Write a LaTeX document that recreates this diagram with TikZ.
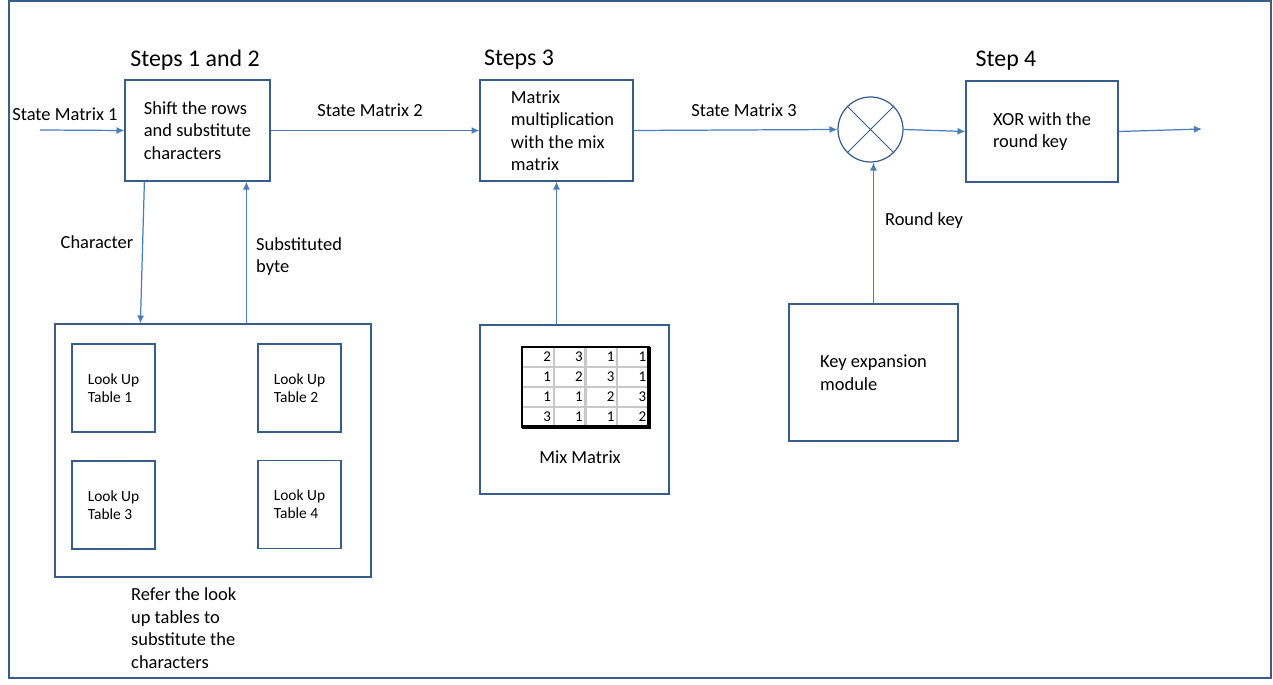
\documentclass[tikz,border=0pt]{standalone}
\usepackage{fontspec}
\setmainfont{Carlito}
\usetikzlibrary{arrows.meta}
\definecolor{boxcol}{HTML}{385D8A}
\definecolor{arrcol}{HTML}{4A7EBB}
\definecolor{gridcol}{HTML}{C8C8C8}
\begin{document}
\begin{tikzpicture}[x=0.02cm, y=-0.02cm, >={Latex[length=4.5pt,width=4pt]},
  blk/.style={draw=boxcol, line width=.7pt, inner sep=0pt, align=left, font=\fontsize{10.5}{12.8}\selectfont},
  lut/.style={blk, minimum width=1.66cm, minimum height=1.76cm, font=\fontsize{8.8}{10.2}\selectfont},
  conn/.style={->, draw=arrcol, line width=.7pt},
  lbl/.style={font=\fontsize{10.5}{12.8}\selectfont, align=left},
  ttl/.style={font=\fontsize{13.6}{16}\selectfont}]
\useasboundingbox (0,0) rectangle (1273,685);
\draw[boxcol, line width=.8pt] (9,1) rectangle (1271,678);
\node[blk, minimum width=2.9cm, minimum height=2.02cm] (shift) at (197.5,130.5) {Shift the rows\\and substitute\\characters};
\node[blk, minimum width=3.06cm, minimum height=2.02cm] (mult) at (556.5,130.5) {\hspace*{.24cm}Matrix\\\hspace*{.24cm}multiplication\\\hspace*{.24cm}with the mix\\\hspace*{.24cm}matrix};
\node[draw=boxcol, line width=.7pt, circle, minimum size=1.3cm, inner sep=0pt] (xorc) at (870.5,129.5) {};
\draw[boxcol, line width=.5pt] (xorc.45)--(xorc.225) (xorc.135)--(xorc.-45);
\node[blk, minimum width=3.04cm, minimum height=2.02cm] (xorb) at (1042,131.5) {XOR with the\\round key};
\node[blk, minimum width=3.38cm, minimum height=2.74cm] (key) at (873.5,372.5) {Key expansion\\module};
\node[blk, minimum width=3.78cm, minimum height=3.38cm] (mix) at (574.5,409.5) {};
\node[blk, minimum width=6.32cm, minimum height=5.06cm] (lutbox) at (213,450.5) {};
\node[lut] (lt1) at (113.5,388) {Look Up\\Table 1};
\node[lut] (lt2) at (299.5,388) {Look Up\\Table 2};
\node[lut] (lt3) at (113.5,505) {Look Up\\Table 3};
\node[lut] (lt4) at (299.5,504.5) {Look Up\\Table 4};
\node[ttl] at (195,60) {Steps 1 and 2};
\node[ttl] at (519,60) {Steps 3};
\node[ttl] at (1006,61) {Step 4};
\coordinate (in) at (40,130);
\coordinate (out) at (1202,129);
\draw[conn] (in) -- (shift.west);
\draw[conn] (shift.east) -- (mult.west);
\draw[conn] (mult.east) -- (xorc.west);
\draw[conn] (xorc.east) -- (xorb.west);
\draw[conn] (xorb.east) -- (out);
\draw[conn] (key.north) -- (key.north |- xorc.south);
\draw[conn] (mult.south |- mix.north) -- (mult.south);
\draw[conn] ([xshift=0.4cm]shift.south west) -- ([xshift=1.72cm]lutbox.north west);
\draw[conn] ([xshift=3.84cm]lutbox.north west) -- ([xshift=3.84cm]lutbox.north west |- shift.south);
\node[lbl] at (65,114) {State Matrix 1};
\node[lbl] at (370,110) {State Matrix 2};
\node[lbl] at (744,110) {State Matrix 3};
\node[lbl] at (97,242) {Character};
\node[lbl, anchor=west] at (250,256.5) {Substituted\\byte};
\node[lbl] at (924,221) {Round key};
\node[lbl] at (580,457) {Mix Matrix};
\node[lbl, anchor=west] at (125,628) {Refer the look\\up tables to\\substitute the\\characters};
\foreach \k in {1,2,3} {
  \draw[gridcol, line width=1.2pt] (522+\k*31.75,347) -- (522+\k*31.75,427);
  \draw[gridcol, line width=1.2pt] (522,347+\k*20) -- (649,347+\k*20);
}
\foreach [count=\i] \row in {{2,3,1,1},{1,2,3,1},{1,1,2,3},{3,1,1,2}}
  \foreach [count=\j] \v in \row
    \node[anchor=east, inner sep=0pt, font=\fontsize{8.5}{10}\selectfont] (m\i\j) at (522+\j*31.75-2.5,347+\i*20-10) {\v};
\draw[black, line width=1pt] (522,347) rectangle (649,427);
\draw[black, line width=1.8pt] (522,427) -- (649,427) -- (649,347);
\end{tikzpicture}
\end{document}
